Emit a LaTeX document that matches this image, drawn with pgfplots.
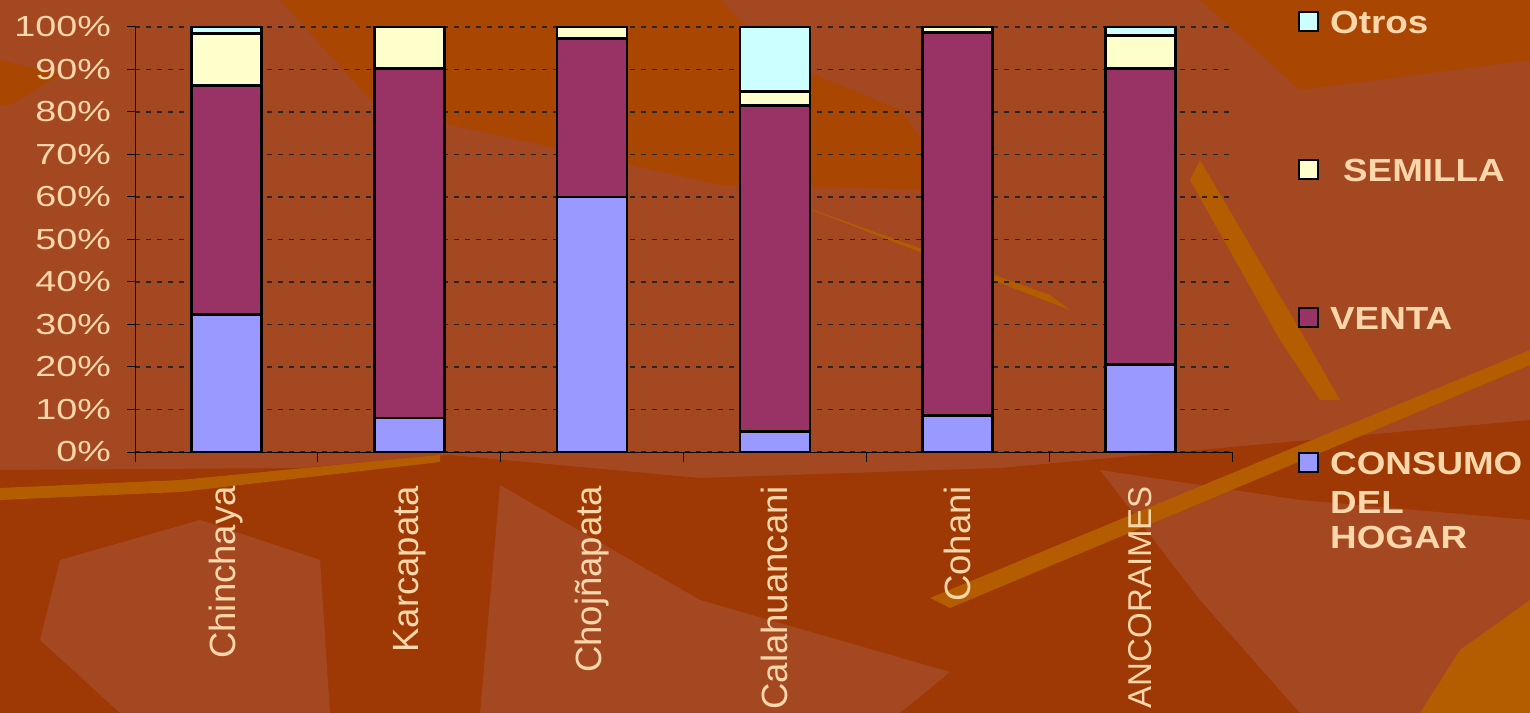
\documentclass[border=0pt]{standalone}
\usepackage{pgfplots}
\usepackage{pgfplotstable}
\pgfplotsset{compat=1.18}
\usepackage{fontspec}
\setmainfont{Liberation Sans}
\newfontfamily\tickfont{Liberation Sans}[FakeStretch=1.3]
\newfontfamily\catfont{Liberation Sans}
\newfontfamily\legfont{Liberation Sans}[FakeStretch=1.15]
\definecolor{bg}{RGB}{164,72,34}
\definecolor{bgdark}{RGB}{158,56,4}
\definecolor{bgmid}{RGB}{168,70,2}
\definecolor{bgor}{RGB}{180,92,0}
\definecolor{peach}{RGB}{255,215,170}
\definecolor{consumo}{RGB}{153,153,255}
\definecolor{venta}{RGB}{153,51,102}
\definecolor{semilla}{RGB}{255,255,204}
\definecolor{otros}{RGB}{204,255,255}

\pgfplotstableread{
x C V S O
0 32.4 53.8 12.3 1.5
1 8.0 82.3 9.7 0
2 60.0 37.2 2.8 0
3 4.8 76.8 3.3 15.1
4 8.6 90.1 1.3 0
5 20.5 69.7 7.8 2.0
}\data

\begin{document}
\begin{tikzpicture}
\useasboundingbox (0bp,0bp) rectangle (1530bp,713bp);
\fill[bg] (0bp,0bp) rectangle (1530bp,713bp);
% decorative background, image coordinates (y downwards)
\begin{scope}[x=1bp,y=-1bp,yshift=713bp]
\fill[bgmid] (280,0) -- (720,0) -- (780,60) -- (900,110) -- (960,190) -- (720,185) -- (520,140) -- (380,110) -- cycle;
\fill[bgdark] (0,470) -- (300,468) -- (450,455) -- (700,478) -- (1000,468) -- (1530,420) -- (1530,713) -- (0,713) -- cycle;
\fill[bg] (60,560) -- (200,520) -- (320,560) -- (330,713) -- (120,713) -- (40,640) -- cycle;
\fill[bg] (500,485) -- (700,600) -- (950,672) -- (900,713) -- (480,713) -- cycle;
\fill[bg] (1100,470) -- (1300,500) -- (1530,520) -- (1530,713) -- (1300,713) -- (1200,600) -- cycle;
\fill[bgmid] (0,60) -- (60,75) -- (10,105) -- (0,105) -- cycle;
\fill[bgmid] (1200,0) -- (1530,0) -- (1530,60) -- (1300,90) -- cycle;
\fill[bgor] (0,488) -- (180,480) -- (440,455) -- (440,462) -- (180,492) -- (0,500) -- cycle;
\fill[bgor] (930,598) -- (1530,350) -- (1530,365) -- (950,608) -- cycle;
\fill[bgor] (1420,713) -- (1460,650) -- (1530,600) -- (1530,713) -- cycle;
\fill[bgor] (730,180) -- (1050,295) -- (1070,310) -- (760,190) -- cycle;
\fill[bgor] (1200,160) -- (1300,330) -- (1340,400) -- (1320,400) -- (1280,340) -- (1190,180) -- cycle;
\end{scope}

\begin{axis}[
  at={(135bp,261bp)}, anchor=south west,
  width=1097bp, height=425bp, scale only axis,
  xmin=-0.5, xmax=5.5, ymin=0, ymax=100,
  enlargelimits=false,
  axis x line=bottom, axis y line=left,
  axis line style={draw=black, line width=1bp, -},
  ybar stacked, bar width=70bp,
  xtick={0,...,5},
  xticklabels={Chinchaya,Karcapata,Chojñapata,Calahuancani,Cohani,{\fontsize{33bp}{34bp}\selectfont ANCORAIMES}},
  minor xtick={-0.5,0.5,1.5,2.5,3.5,4.5,5.5},
  tick align=outside,
  major x tick style={draw=none},
  minor x tick style={draw=black, line width=1bp},
  minor tick length=10bp,
  major tick length=8bp,
  ytick={0,10,...,100},
  yticklabels={0\%,10\%,20\%,30\%,40\%,50\%,60\%,70\%,80\%,90\%,100\%},
  y tick style={draw=black, line width=1bp},
  ymajorgrids,
  grid style={dash pattern=on 5bp off 6bp, black!85, line width=1.2bp},
  yticklabel style={font=\tickfont\fontsize{29bp}{29bp}\selectfont, text=peach, inner sep=0pt, xshift=-16bp},
  xticklabel style={font=\catfont\fontsize{36.5bp}{37bp}\selectfont, text=peach, rotate=90, anchor=east, inner sep=0pt, xshift=-26bp},
  clip=false,
]
\addplot[fill=consumo, draw=black, line width=2.8bp] table[x=x,y=C]{\data};
\addplot[fill=venta, draw=black, line width=2.8bp] table[x=x,y=V]{\data};
\addplot[fill=semilla, draw=black, line width=2.8bp] table[x=x,y=S]{\data};
\addplot[fill=otros, draw=black, line width=2.8bp] table[x=x,y=O]{\data};
\end{axis}

\begin{scope}[x=1bp,y=1bp]
\begin{scope}[every node/.style={font=\legfont\bfseries\fontsize{32bp}{32bp}\selectfont, text=peach, inner sep=0pt, anchor=base west}]
\draw[fill=otros, line width=2bp] (1299,682) rectangle (1318,701);
\node at (1330,679) {Otros};
\draw[fill=semilla, line width=2bp] (1299,534) rectangle (1318,553);
\node at (1343,531.5) {SEMILLA};
\draw[fill=venta, line width=2bp] (1299,386) rectangle (1318,405);
\node at (1330,383.5) {VENTA};
\draw[fill=consumo, line width=2bp] (1299,241) rectangle (1318,260);
\node at (1330,238.5) {CONSUMO};
\node at (1330,199.5) {DEL};
\node at (1330,165) {HOGAR};
\end{scope}
\end{scope}
\end{tikzpicture}
\end{document}
